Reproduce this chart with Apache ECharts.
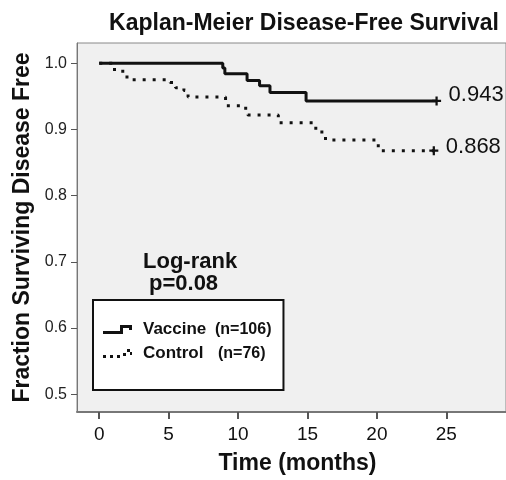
<!DOCTYPE html>
<html>
<head>
<meta charset="utf-8">
<script src="https://cdn.jsdelivr.net/npm/echarts@6/dist/echarts.min.js"></script>
<style>
    html, body { margin: 0; padding: 0; background: #fff; }
    #chart { width: 506px; height: 480px; }
</style>
</head>
<body>
<div id="chart"></div>
<script>
// tick labels
const xTicks = [0, 5, 10, 15, 20, 25];
const yTicks = [0.5, 0.6, 0.7, 0.8, 0.9, 1.0];

// Kaplan-Meier steps (months, fraction)
const vaccineTime = [0, 8.9, 9.05, 10.65, 11.55, 12.3, 14.9, 24.3];
const vaccineSurv = [1.0, 0.993, 0.984, 0.974, 0.966, 0.956, 0.943, 0.943];
const controlTime = [0, 1.1, 2.0, 5.1, 5.5, 6.1, 6.4, 9.1, 10.4, 10.7, 12.9, 15.6, 16.3, 20.1, 24.1];
const controlSurv = [1.0, 0.988, 0.975, 0.971, 0.963, 0.959, 0.949, 0.936, 0.932, 0.922, 0.910, 0.896, 0.884, 0.868, 0.868];

const seriesNames = ['Vaccine', 'Control'];
const seriesN = [106, 76];

const FONT = 'Liberation Sans, Arial, sans-serif';
const CENSOR = 'path://M3,0h2v3h3v2h-3v3h-2v-3h-3v-2h3z';

function toData(times, surv) {
    return times.map((t, i) => {
        const item = { value: [t, surv[i]] };
        if (i === times.length - 1) {
            item.symbol = CENSOR;
            item.symbolSize = 9;
        }
        return item;
    });
}

const chart = echarts.init(document.getElementById('chart'));

chart.setOption({
    animation: false,
    backgroundColor: '#fff',
    title: {
        text: 'Kaplan-Meier Disease-Free Survival',
        left: 299,
        top: 7,
        textAlign: 'center',
        textStyle: { fontFamily: FONT, fontSize: 23, fontWeight: 'bold', color: '#111' }
    },
    grid: {
        left: 77,
        top: 43,
        bottom: 63,
        right: -3,
        show: true,
        backgroundColor: '#f0f0f0',
        borderColor: '#888',
        borderWidth: 1
    },
    xAxis: {
        type: 'value',
        min: -1.6,
        max: 29.3,
        name: 'Time (months)',
        nameLocation: 'middle',
        nameGap: 40,
        nameTextStyle: { fontFamily: FONT, fontSize: 23, fontWeight: 'bold', color: '#111', padding: [0, 0, 0, 12] },
        axisLine: { show: true, onZero: false, lineStyle: { color: '#777', width: 2 } },
        axisTick: { show: true, length: 7, customValues: xTicks, lineStyle: { color: '#555', width: 2 } },
        axisLabel: { customValues: xTicks, margin: 13, fontFamily: FONT, fontSize: 19, color: '#111' },
        splitLine: { show: false }
    },
    yAxis: {
        type: 'value',
        min: 0.4732,
        max: 1.0306,
        name: 'Fraction Surviving Disease Free',
        nameLocation: 'middle',
        nameGap: 42,
        nameTextStyle: { fontFamily: FONT, fontSize: 23, fontWeight: 'bold', color: '#111' },
        axisLine: { show: true, onZero: false, lineStyle: { color: '#777', width: 1 } },
        axisTick: { show: true, length: 6, customValues: yTicks, lineStyle: { color: '#555' } },
        axisLabel: {
            customValues: yTicks,
            margin: 10,
            fontFamily: FONT,
            fontSize: 16,
            color: '#222',
            formatter: v => v.toFixed(1)
        },
        splitLine: { show: false }
    },
    legend: {
        orient: 'vertical',
        left: 93,
        top: 300,
        data: [
            { name: 'Vaccine', icon: 'path://M0,6H17V0H29V5H26V3H20V9H0Z' },
            { name: 'Control', icon: 'path://M0,6h3v3h-3zM7,6h3v3h-3zM14,6h3v3h-3zM20,4h3v3h-3zM24,0h3v3h-3zM27,3h2v3h-2z' }
        ],
        itemWidth: 29,
        itemHeight: 9,
        itemGap: 7,
        padding: [21, 12, 28, 10],
        backgroundColor: '#fff',
        borderColor: '#111',
        borderWidth: 2,
        borderRadius: 0,
        selectedMode: false,
        itemStyle: { color: '#111', borderWidth: 0 },
        lineStyle: { width: 0 },
        formatter: name => {
            const i = seriesNames.indexOf(name);
            return '{a|' + name + '}{' + (i === 0 ? 'b' : 'c') + '|(n=' + seriesN[i] + ')}';
        },
        textStyle: {
            rich: {
                a: { fontFamily: FONT, fontSize: 17, fontWeight: 'bold', color: '#111', width: 72, padding: [0, 0, 0, 6] },
                b: { fontFamily: FONT, fontSize: 16, fontWeight: 'bold', color: '#111' },
                c: { fontFamily: FONT, fontSize: 16, fontWeight: 'bold', color: '#111', padding: [0, 0, 0, 3] }
            }
        }
    },
    graphic: [
        {
            type: 'text',
            left: 143,
            top: 251,
            style: { text: 'Log-rank', font: 'bold 22px ' + FONT, fill: '#111' }
        },
        {
            type: 'text',
            left: 149,
            top: 273,
            style: { text: 'p=0.08', font: 'bold 22px ' + FONT, fill: '#111' }
        }
    ],
    series: [
        {
            name: 'Vaccine',
            type: 'line',
            step: 'end',
            symbol: 'none',
            showSymbol: true,
            color: '#111',
            lineStyle: { color: '#111', width: 3 },
            itemStyle: { color: '#111' },
            endLabel: {
                show: true,
                formatter: () => vaccineSurv[vaccineSurv.length - 1].toFixed(3),
                offset: [4, -6],
                fontFamily: FONT,
                fontSize: 22,
                color: '#111'
            },
            emphasis: { disabled: true },
            data: toData(vaccineTime, vaccineSurv)
        },
        {
            name: 'Control',
            type: 'line',
            step: 'end',
            symbol: 'none',
            showSymbol: true,
            color: '#111',
            lineStyle: { color: '#111', width: 3, type: [3, 7], cap: 'butt' },
            itemStyle: { color: '#111' },
            endLabel: {
                show: true,
                formatter: () => controlSurv[controlSurv.length - 1].toFixed(3),
                offset: [4, -4],
                fontFamily: FONT,
                fontSize: 22,
                color: '#111'
            },
            emphasis: { disabled: true },
            data: toData(controlTime, controlSurv)
        }
    ]
});
</script>
</body>
</html>
